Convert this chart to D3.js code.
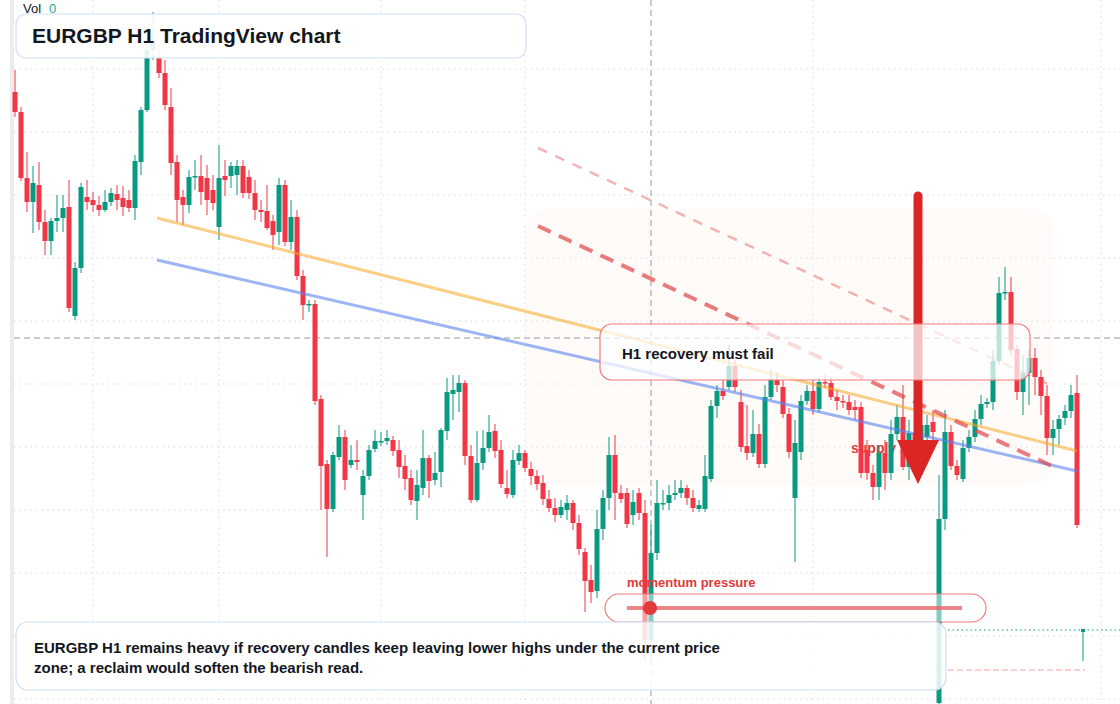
<!DOCTYPE html>
<html>
<head>
<meta charset="utf-8">
<script src="https://cdn.jsdelivr.net/npm/d3@7/dist/d3.min.js"></script>
<style>
  body { margin: 0; background: #fff; }
  svg { display: block; font-family: "Liberation Sans", Arial, sans-serif; }
</style>
</head>
<body>
<div id="chart"></div>
<script>
// EURGBP H1 candles, prices in pipettes (0.85908 -> 85908)
const opens = [85908,85888,85822,85798,85815,85778,85759,85779,85782,85793,85684,85732,85803,85800,85795,85790,85798,85806,85802,85800,
  85792,85838,85890,85950,85942,85927,85893,85838,85803,85795,85823,85824,85822,85810,85773,85824,85824,85825,85834,85823,
  85807,85790,85789,85779,85768,85815,85758,85783,85724,85695,85696,85601,85536,85491,85543,85563,85535,85540,85505,85524,
  85551,85558,85559,85560,85550,85534,85522,85499,85512,85542,85520,85528,85569,85606,85608,85617,85544,85500,85537,85552,
  85569,85550,85512,85505,85539,85547,85531,85524,85517,85501,85492,85485,85490,85497,85477,85448,85420,85409,85471,85502,
  85545,85507,85507,85485,85507,85487,85360,85447,85497,85497,85505,85507,85512,85502,85491,85491,85521,85594,85609,85613,
  85634,85598,85554,85547,85566,85536,85603,85620,85613,85586,85502,85548,85599,85609,85591,85618,85617,85603,85599,85598,
  85593,85593,85550,85527,85513,85547,85527,85566,85583,85533,85567,85560,85563,85578,85297,85481,85568,85534,85521,85552,
  85563,85581,85596,85598,85639,85707,85708,85651,85608,85627,85642,85623,85604,85562,85571,85582,85589,85607];
const closes = [85888,85822,85798,85817,85778,85759,85779,85782,85792,85692,85732,85813,85798,85795,85790,85798,85807,85800,85793,85792,
  85839,85890,85950,85960,85927,85895,85837,85800,85795,85823,85824,85808,85800,85797,85822,85820,85834,85834,85807,85807,
  85790,85788,85772,85765,85815,85758,85783,85724,85695,85696,85599,85534,85491,85545,85563,85520,85540,85538,85524,85550,
  85559,85559,85562,85549,85533,85521,85500,85515,85542,85519,85527,85570,85608,85610,85617,85544,85500,85537,85552,85568,
  85549,85516,85506,85540,85547,85532,85524,85516,85501,85492,85485,85493,85497,85477,85451,85419,85408,85471,85502,85545,
  85507,85501,85476,85498,85487,85360,85447,85497,85497,85505,85507,85512,85502,85492,85495,85524,85594,85609,85604,85634,
  85613,85553,85547,85566,85536,85603,85620,85615,85586,85548,85557,85599,85609,85591,85618,85617,85603,85599,85598,85590,
  85590,85527,85527,85513,85547,85527,85566,85583,85533,85567,85560,85575,85575,85568,85481,85568,85534,85525,85552,85563,
  85581,85596,85598,85639,85707,85708,85650,85608,85627,85642,85623,85604,85562,85571,85581,85589,85605,85475];
const highs = [85930,85893,85848,85834,85838,85790,85782,85805,85805,85820,85738,85817,85820,85808,85804,85810,85812,85815,85814,85810,
  85845,85893,85970,85988,85955,85940,85912,85845,85810,85830,85840,85845,85835,85825,85855,85840,85838,85840,85840,85830,
  85820,85800,85815,85785,85822,85820,85800,85790,85730,85700,85700,85605,85540,85548,85575,85570,85555,85560,85530,85555,
  85570,85568,85570,85564,85560,85545,85530,85530,85570,85545,85548,85572,85622,85625,85625,85620,85555,85569,85570,85585,
  85576,85560,85530,85550,85555,85550,85538,85530,85525,85510,85502,85500,85505,85500,85485,85452,85435,85490,85510,85563,
  85565,85515,85512,85510,85512,85500,85475,85520,85510,85515,85520,85520,85515,85510,85500,85545,85600,85615,85620,85655,
  85642,85610,85595,85590,85576,85615,85630,85628,85620,85592,85580,85605,85615,85620,85622,85625,85622,85610,85605,85605,
  85600,85598,85560,85535,85555,85560,85580,85595,85615,85580,85600,85585,85585,85590,85525,85590,85575,85540,85560,85570,
  85590,85605,85602,85650,85723,85733,85723,85655,85645,85650,85652,85630,85615,85580,85585,85595,85615,85625];
const lows = [85883,85819,85788,85767,85770,85745,85745,85768,85768,85688,85680,85727,85790,85788,85784,85788,85794,85790,85784,85788,
  85780,85825,85888,85940,85922,85890,85825,85778,85775,85787,85810,85795,85785,85790,85760,85804,85812,85805,85802,85801,
  85780,85778,85770,85750,85755,85754,85750,85720,85680,85688,85595,85490,85443,85488,85540,85510,85532,85530,85480,85520,
  85548,85554,85555,85544,85522,85510,85495,85480,85505,85502,85515,85513,85560,85580,85588,85535,85497,85498,85530,85548,
  85542,85512,85502,85502,85535,85528,85515,85510,85495,85488,85478,85482,85480,85470,85445,85388,85397,85402,85460,85490,
  85480,85497,85472,85475,85480,85340,85340,85440,85490,85490,85500,85502,85495,85488,85488,85488,85518,85582,85600,85610,
  85608,85548,85540,85543,85532,85532,85600,85608,85582,85542,85438,85540,85595,85585,85588,85612,85600,85590,85592,85585,
  85580,85522,85520,85500,85500,85510,85520,85560,85530,85520,85550,85555,85552,85560,85296,85470,85530,85520,85518,85548,
  85558,85575,85592,85590,85635,85700,85645,85600,85585,85595,85605,85585,85545,85545,85555,85575,85582,85472];
// grid and time ticks
const gridPrices = [85931,85868,85805,85742,85679,85616,85553,85490,85427,85364,85301];
const gridIndex = [13,34,61,85,133,181];
const crossPrice = 85662, crossIndex = 106;

const W = 1120, H = 704;
const green = "#089981", red = "#f23645";
const svg = d3.select("#chart").append("svg").attr("width", W).attr("height", H);

const x = d3.scaleLinear().domain([0, 177]).range([15, 1077]);
const y = d3.scaleLinear().domain([86000 - H, 86000]).range([H, 0]);

svg.append("rect").attr("x", 10).attr("y", 0).attr("width", 4).attr("height", H).attr("fill", "#ececec");

// grid
svg.append("g").selectAll("line").data(gridPrices).join("line")
  .attr("x1", 14).attr("x2", W).attr("y1", d => y(d)).attr("y2", d => y(d))
  .attr("stroke", "#d6d9de").attr("stroke-dasharray", "1.5,4");
svg.append("g").selectAll("line").data(gridIndex).join("line")
  .attr("x1", d => x(d)).attr("x2", d => x(d)).attr("y1", 0).attr("y2", H)
  .attr("stroke", "#d6d9de").attr("stroke-dasharray", "1.5,4");

// supply zone
svg.append("rect").attr("x", x(85)).attr("y", y(85792)).attr("width", x(173) - x(85)).attr("height", y(85515) - y(85792))
  .attr("rx", 24).attr("fill", "#fdf3ea").attr("opacity", 0.3);

// crosshair
svg.append("line").attr("x1", 14).attr("x2", W).attr("y1", y(crossPrice)).attr("y2", y(crossPrice))
  .attr("stroke", "#9a9a9a").attr("stroke-dasharray", "6,4");
svg.append("line").attr("x1", x(crossIndex)).attr("x2", x(crossIndex)).attr("y1", 0).attr("y2", H)
  .attr("stroke", "#9a9a9a").attr("stroke-dasharray", "6,4");

svg.append("text").attr("x", 851).attr("y", 453).attr("fill", "#e03a3a").attr("font-size", 14)
  .attr("font-weight", "bold").text("supply zone");

// candles
const idx = d3.range(opens.length);
const cg = svg.append("g");
cg.selectAll("line").data(idx).join("line")
  .attr("x1", i => x(i)).attr("x2", i => x(i))
  .attr("y1", i => y(highs[i])).attr("y2", i => y(lows[i]))
  .attr("stroke", i => closes[i] >= opens[i] ? green : red).attr("stroke-width", 1);
cg.selectAll("rect").data(idx).join("rect")
  .attr("x", i => x(i) - 2.5).attr("width", 5)
  .attr("y", i => y(Math.max(opens[i], closes[i])))
  .attr("height", i => Math.max(1.5, Math.abs(y(opens[i]) - y(closes[i]))))
  .attr("fill", i => closes[i] >= opens[i] ? green : red);

// trend lines
const trend = (a, b, c, w, op, dash) => svg.append("line")
  .attr("x1", x(a[0])).attr("y1", y(a[1])).attr("x2", x(b[0])).attr("y2", y(b[1]))
  .attr("stroke", c).attr("stroke-width", w).attr("opacity", op).attr("stroke-dasharray", dash || null);
trend([23.67, 85782], [177, 85549], "#f9a825", 3, 0.55);
trend([23.67, 85740], [177, 85529], "#5b84f0", 3, 0.6);
trend([87.17, 85774], [172.83, 85534], "#e0474a", 4, 0.7, "14,9");
trend([87.17, 85852], [172.5, 85615], "#e0474a", 2.5, 0.4, "10,9");

// arrow
svg.append("line").attr("x1", 918).attr("x2", 918).attr("y1", 196).attr("y2", 445)
  .attr("stroke", "#dc2626").attr("stroke-width", 9).attr("stroke-linecap", "round");
svg.append("path").attr("d", "M897,440 L939,440 L918,484 Z").attr("fill", "#dc2626");

// callout
svg.append("rect").attr("x", 600).attr("y", 324).attr("width", 430).attr("height", 56).attr("rx", 12)
  .attr("fill", "#fff").attr("fill-opacity", 0.72).attr("stroke", "#ef7d7f").attr("stroke-width", 1.2);
svg.append("text").attr("x", 622).attr("y", 359).attr("font-size", 15).attr("font-weight", "bold")
  .attr("fill", "#131722").text("H1 recovery must fail");

// momentum
svg.append("text").attr("x", 627).attr("y", 587).attr("font-size", 13).attr("font-weight", "bold")
  .attr("fill", "#e03a3a").text("momentum pressure");
svg.append("rect").attr("x", 605).attr("y", 594).attr("width", 381).attr("height", 28).attr("rx", 14)
  .attr("fill", "#fff").attr("fill-opacity", 0.5).attr("stroke", "#ef7d7f").attr("stroke-width", 1.2);
svg.append("line").attr("x1", 627).attr("x2", 962).attr("y1", 608).attr("y2", 608)
  .attr("stroke", "#e8686a").attr("stroke-width", 4).attr("opacity", 0.8);
svg.append("circle").attr("cx", 650).attr("cy", 608).attr("r", 7).attr("fill", "#e03a3a");

// right side price lines
svg.append("line").attr("x1", 948).attr("x2", W).attr("y1", 630).attr("y2", 630)
  .attr("stroke", green).attr("stroke-dasharray", "1.5,3");
svg.append("line").attr("x1", 948).attr("x2", 1085).attr("y1", 670).attr("y2", 670)
  .attr("stroke", "#f4a0a0").attr("stroke-dasharray", "6,3");
svg.append("line").attr("x1", 1083).attr("x2", 1083).attr("y1", 630).attr("y2", 661).attr("stroke", green);
svg.append("rect").attr("x", 1081).attr("y", 629).attr("width", 4).attr("height", 3).attr("fill", green);

// bottom note
svg.append("rect").attr("x", 16).attr("y", 622).attr("width", 930).attr("height", 68).attr("rx", 12)
  .attr("fill", "#fff").attr("fill-opacity", 0.85).attr("stroke", "#cfe0f7").attr("stroke-width", 1.2);
const note = ["EURGBP H1 remains heavy if recovery candles keep leaving lower highs under the current price",
  "zone; a reclaim would soften the bearish read."];
svg.append("g").selectAll("text").data(note).join("text")
  .attr("x", 34).attr("y", (d, i) => 653 + i * 20).attr("font-size", 15).attr("font-weight", "bold")
  .attr("fill", "#131722").text(d => d);

// title
svg.append("rect").attr("x", 16).attr("y", 14).attr("width", 510).attr("height", 44).attr("rx", 10)
  .attr("fill", "#fff").attr("fill-opacity", 0.9).attr("stroke", "#cfe0f7").attr("stroke-width", 1.2);
svg.append("text").attr("x", 32).attr("y", 43).attr("font-size", 21).attr("font-weight", "bold")
  .attr("fill", "#131722").text("EURGBP H1 TradingView chart");
const vol = svg.append("text").attr("x", 23).attr("y", 13).attr("font-size", 13).attr("fill", "#131722");
vol.append("tspan").text("Vol");
vol.append("tspan").attr("dx", 8).attr("fill", "#22ab94").text("0");
</script>
</body>
</html>
